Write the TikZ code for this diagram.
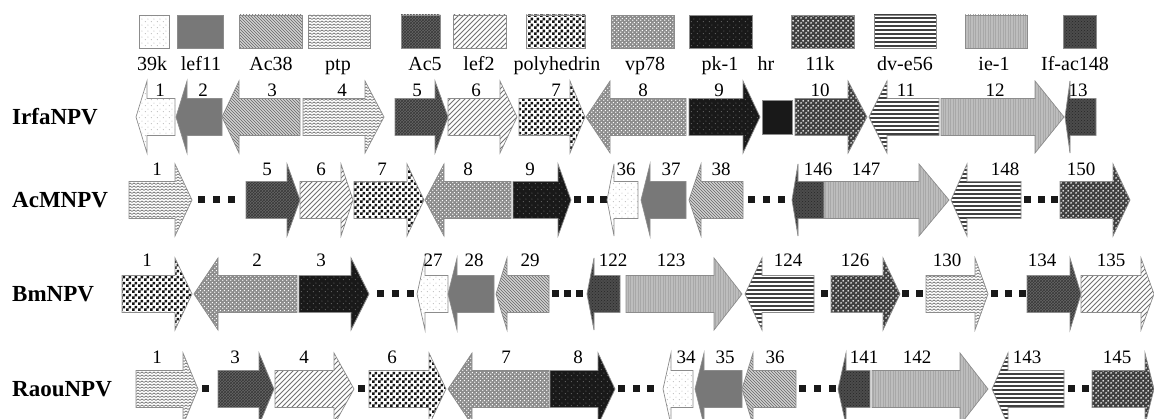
\documentclass[tikz,border=0pt]{standalone}
\usepackage{fontspec}
\setmainfont{Liberation Serif}
\usetikzlibrary{patterns}

% ---------- fill textures ----------
\pgfdeclarepatternformonly{zigzag}{\pgfqpoint{-1pt}{-1pt}}{\pgfqpoint{5pt}{4pt}}{\pgfqpoint{4pt}{3pt}}{%
  \pgfsetlinewidth{0.7pt}%
  \pgfpathmoveto{\pgfqpoint{0pt}{0.6pt}}%
  \pgfpathlineto{\pgfqpoint{2pt}{2pt}}%
  \pgfpathlineto{\pgfqpoint{4pt}{0.6pt}}%
  \pgfusepath{stroke}}
\pgfdeclarepatternformonly{hstripes}{\pgfqpoint{-1pt}{-1pt}}{\pgfqpoint{101pt}{5pt}}{\pgfqpoint{100pt}{4pt}}{%
  \pgfsetlinewidth{1.5pt}%
  \pgfpathmoveto{\pgfqpoint{0pt}{1pt}}%
  \pgfpathlineto{\pgfqpoint{100pt}{1pt}}%
  \pgfusepath{stroke}}
\pgfdeclarepatternformonly{vfine}{\pgfqpoint{-1pt}{-1pt}}{\pgfqpoint{3pt}{101pt}}{\pgfqpoint{2.5pt}{100pt}}{%
  \pgfsetlinewidth{0.4pt}%
  \pgfpathmoveto{\pgfqpoint{0.5pt}{0pt}}%
  \pgfpathlineto{\pgfqpoint{0.5pt}{100pt}}%
  \pgfusepath{stroke}}
\pgfdeclarepatternformonly{checker}{\pgfqpoint{0pt}{0pt}}{\pgfqpoint{6pt}{6pt}}{\pgfqpoint{6pt}{6pt}}{%
  \pgfpathrectangle{\pgfqpoint{0pt}{0pt}}{\pgfqpoint{3pt}{3pt}}%
  \pgfpathrectangle{\pgfqpoint{3pt}{3pt}}{\pgfqpoint{3pt}{3pt}}%
  \pgfusepath{fill}}
\pgfdeclarepatternformonly{hexdots}{\pgfqpoint{0pt}{0pt}}{\pgfqpoint{5pt}{5pt}}{\pgfqpoint{5pt}{5pt}}{%
  \pgfpathcircle{\pgfqpoint{1.25pt}{1.25pt}}{1.15pt}%
  \pgfpathcircle{\pgfqpoint{3.75pt}{3.75pt}}{1.15pt}%
  \pgfusepath{fill}}
\pgfdeclarepatternformonly{smalldots}{\pgfqpoint{0pt}{0pt}}{\pgfqpoint{3.6pt}{3.6pt}}{\pgfqpoint{3.6pt}{3.6pt}}{%
  \pgfpathcircle{\pgfqpoint{0.9pt}{0.9pt}}{0.8pt}%
  \pgfpathcircle{\pgfqpoint{2.7pt}{2.7pt}}{0.8pt}%
  \pgfusepath{fill}}
\pgfdeclarepatternformonly{sparsedots}{\pgfqpoint{0pt}{0pt}}{\pgfqpoint{6pt}{6pt}}{\pgfqpoint{6pt}{6pt}}{%
  \pgfpathcircle{\pgfqpoint{1.5pt}{1.5pt}}{0.6pt}%
  \pgfpathcircle{\pgfqpoint{4.5pt}{4.5pt}}{0.6pt}%
  \pgfusepath{fill}}
\pgfdeclarepatternformonly{slash}{\pgfqpoint{-1pt}{-1pt}}{\pgfqpoint{6pt}{6pt}}{\pgfqpoint{5pt}{5pt}}{%
  \pgfsetlinewidth{0.9pt}%
  \pgfpathmoveto{\pgfqpoint{0pt}{0pt}}%
  \pgfpathlineto{\pgfqpoint{5pt}{5pt}}%
  \pgfusepath{stroke}}

\tikzset{
  gene/.style={draw=black!45, line width=0.7pt, line join=miter},
  g39k/.style={gene, preaction={fill=white}, pattern=sparsedots, pattern color=black!30},
  glef11/.style={gene, fill=black!53},
  gac38/.style={gene, preaction={fill=black!18}, pattern=north west lines, pattern color=black!60},
  gptp/.style={gene, preaction={fill=white}, pattern=zigzag, pattern color=black!55},
  gac5/.style={gene, preaction={fill=black!60}, pattern=crosshatch, pattern color=black!78},
  glef2/.style={gene, preaction={fill=white}, pattern=slash, pattern color=black!55},
  gpolh/.style={gene, preaction={fill=white}, pattern=checker, pattern color=black!92},
  gvp78/.style={gene, preaction={fill=black!45}, pattern=smalldots, pattern color=white},
  gpk1/.style={gene, preaction={fill=black!90}, pattern=sparsedots, pattern color=black!55},
  g11k/.style={gene, preaction={fill=black!75}, pattern=hexdots, pattern color=black!8},
  gdve56/.style={gene, preaction={fill=white}, pattern=hstripes, pattern color=black!75},
  gie1/.style={gene, preaction={fill=black!26}, pattern=vfine, pattern color=black!34},
  gifac148/.style={gene, preaction={fill=black!70}, pattern=crosshatch dots, pattern color=black!85},
  ghr/.style={gene, fill=black!90},
  num/.style={anchor=base, inner sep=0pt, font=\fontsize{19}{19}\selectfont},
  lgt/.style={anchor=base, inner sep=0pt, font=\fontsize{20}{20}\selectfont},
  virus/.style={anchor=west, inner sep=0pt, font=\fontsize{23}{23}\selectfont\bfseries},
}

\def\bh{18.5}
\def\hh{36}

% gene arrow: style, body end, head base, tip, row centre, number, number x
\newcommand\garrow[7]{%
  \draw[#1] ({#2},{#5-\bh}) -- ({#3},{#5-\bh}) -- ({#3},{#5-\hh}) -- ({#4},{#5})
    -- ({#3},{#5+\hh}) -- ({#3},{#5+\bh}) -- ({#2},{#5+\bh}) -- cycle;
  \node[num] at ({#7},{\lb}) {#6};}
% gap marker between genes
\newcommand\gdot[2]{\fill[black!90] ({#1-3.5},{#2-3.5}) rectangle ({#1+3.5},{#2+3.5});}
% legend swatch: style, left, right, label x, label
\newcommand\lgd[5]{\draw[#1] (#2,15) rectangle (#3,48); \node[lgt] at (#4,71) {#5};}

\begin{document}
\begin{tikzpicture}[x=1pt, y=-1pt]
\useasboundingbox (0,0) rectangle (1154,419);
\clip (0,0) rectangle (1154,419);

% ---------------- legend ----------------
\lgd{g39k}{139}{169}{152}{39k}
\lgd{glef11}{177}{223}{201}{lef11}
\lgd{gac38}{239}{302}{271}{Ac38}
\lgd{gptp}{308}{370}{338}{ptp}
\lgd{gac5}{401}{440}{425}{Ac5}
\lgd{glef2}{453}{506}{479}{lef2}
\lgd{gpolh}{526}{585}{557}{polyhedrin}
\lgd{gvp78}{611}{674}{645}{vp78}
\lgd{gpk1}{689}{752}{720}{pk-1}
\node[lgt] (hrlab) at (766,71) {hr};
\lgd{g11k}{791}{854}{820}{11k}
\lgd{gdve56}{874}{936}{905}{dv-e56}
\lgd{gie1}{965}{1027}{994}{ie-1}
\lgd{gifac148}{1063}{1096}{1075}{If-ac148}

% ---------------- IrfaNPV ----------------
\def\ry{117}\def\lb{97}
\node[virus] (irfa) at (12,\ry) {IrfaNPV};
\garrow{g39k}{175}{147}{136}{\ry}{1}{160}
\garrow{glef11}{222}{187}{176}{\ry}{2}{203}
\garrow{gac38}{300}{239}{222}{\ry}{3}{272}
\garrow{gptp}{303}{365}{384}{\ry}{4}{342}
\garrow{gac5}{395}{435}{448}{\ry}{5}{417}
\garrow{glef2}{448}{500}{517}{\ry}{6}{476}
\garrow{gpolh}{519}{570}{585}{\ry}{7}{556}
\garrow{gvp78}{686}{610}{586}{\ry}{8}{643}
\garrow{gpk1}{689}{743}{760}{\ry}{9}{719}
\draw[ghr] (762,{\ry-17}) rectangle (792,{\ry+17});
\garrow{g11k}{795}{848}{867}{\ry}{10}{820}
\garrow{gdve56}{939}{887}{869}{\ry}{11}{906}
\garrow{gie1}{941}{1035}{1064}{\ry}{12}{995}
\garrow{gifac148}{1096}{1070}{1065}{\ry}{13}{1078}

% ---------------- AcMNPV ----------------
\def\ry{200}\def\lb{176}
\node[virus] (acm) at (12,\ry) {AcMNPV};
\garrow{gptp}{129}{175}{192}{\ry}{1}{157}
\gdot{201}{\ry}\gdot{216}{\ry}\gdot{231}{\ry}
\garrow{gac5}{246}{287}{300}{\ry}{5}{267}
\garrow{glef2}{300}{341}{353}{\ry}{6}{321}
\garrow{gpolh}{354}{407}{424}{\ry}{7}{382}
\garrow{gvp78}{511}{444}{425}{\ry}{8}{468}
\garrow{gpk1}{513}{558}{571}{\ry}{9}{530}
\gdot{577}{\ry}\gdot{590}{\ry}\gdot{603}{\ry}
\garrow{g39k}{638}{614}{607}{\ry}{36}{626}
\garrow{glef11}{686}{650}{641}{\ry}{37}{671}
\garrow{gac38}{743}{701}{689}{\ry}{38}{721}
\gdot{751}{\ry}\gdot{766}{\ry}\gdot{781}{\ry}
\garrow{gifac148}{824}{798}{792}{\ry}{146}{818}
\garrow{gie1}{824}{919}{949}{\ry}{147}{866}
\garrow{gdve56}{1021}{967}{951}{\ry}{148}{1005}
\gdot{1027}{\ry}\gdot{1041}{\ry}\gdot{1054}{\ry}
\garrow{g11k}{1060}{1113}{1130}{\ry}{150}{1081}

% ---------------- BmNPV ----------------
\def\ry{294}\def\lb{267}
\node[virus] (bm) at (12,\ry) {BmNPV};
\garrow{gpolh}{122}{175}{192}{\ry}{1}{147}
\garrow{gvp78}{297}{218}{194}{\ry}{2}{257}
\garrow{gpk1}{299}{351}{369}{\ry}{3}{321}
\gdot{380}{\ry}\gdot{395}{\ry}\gdot{410}{\ry}
\garrow{g39k}{448}{425}{417}{\ry}{27}{433}
\garrow{glef11}{494}{457}{448}{\ry}{28}{474}
\garrow{gac38}{549}{507}{496}{\ry}{29}{530}
\gdot{555}{\ry}\gdot{567}{\ry}\gdot{579}{\ry}
\garrow{gifac148}{620}{594}{587}{\ry}{122}{613}
\garrow{gie1}{626}{714}{742}{\ry}{123}{671}
\garrow{gdve56}{814}{762}{745}{\ry}{124}{788}
\gdot{824}{\ry}
\garrow{g11k}{831}{883}{900}{\ry}{126}{855}
\gdot{905}{\ry}\gdot{919}{\ry}
\garrow{gptp}{926}{975}{988}{\ry}{130}{947}
\gdot{994}{\ry}\gdot{1008}{\ry}\gdot{1022}{\ry}
\garrow{gac5}{1027}{1070}{1081}{\ry}{134}{1042}
\garrow{glef2}{1081}{1141}{1154}{\ry}{135}{1111}

% ---------------- RaouNPV ----------------
\def\ry{389}\def\lb{364}
\node[virus] (raou) at (12,\ry) {RaouNPV};
\garrow{gptp}{136}{183}{198}{\ry}{1}{157}
\gdot{205}{\ry}
\garrow{gac5}{218}{259}{274}{\ry}{3}{235}
\garrow{glef2}{275}{334}{354}{\ry}{4}{304}
\gdot{361}{\ry}
\garrow{gpolh}{369}{429}{446}{\ry}{6}{392}
\garrow{gvp78}{549}{472}{448}{\ry}{7}{506}
\garrow{gpk1}{550}{598}{615}{\ry}{8}{578}
\gdot{621}{\ry}\gdot{636}{\ry}\gdot{650}{\ry}
\garrow{g39k}{693}{671}{663}{\ry}{34}{686}
\garrow{glef11}{742}{704}{695}{\ry}{35}{725}
\garrow{gac38}{796}{753}{742}{\ry}{36}{775}
\gdot{802}{\ry}\gdot{817}{\ry}\gdot{832}{\ry}
\garrow{gifac148}{870}{846}{838}{\ry}{141}{864}
\garrow{gie1}{872}{960}{988}{\ry}{142}{917}
\garrow{gdve56}{1064}{1008}{992}{\ry}{143}{1027}
\gdot{1071}{\ry}\gdot{1085}{\ry}
\garrow{g11k}{1092}{1145}{1154}{\ry}{145}{1117}
\end{tikzpicture}
\end{document}
